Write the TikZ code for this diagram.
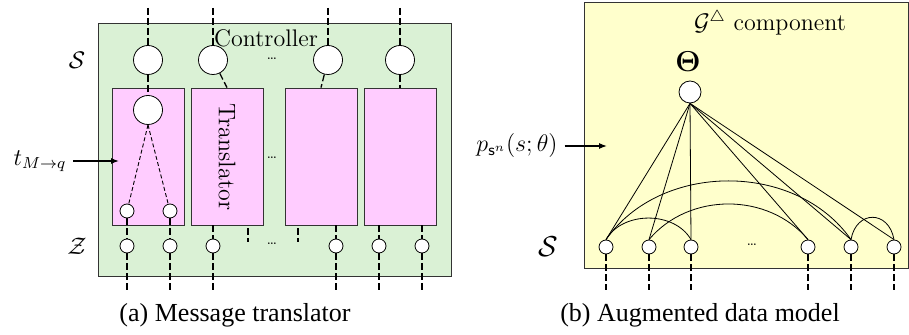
\documentclass[tikz,border=0pt]{standalone}
\usepackage{amsmath}
\usepackage{amssymb}
\usepackage{fontspec}
\newfontfamily\capfont{Liberation Serif}
\usepackage{tikz}
\usetikzlibrary{arrows.meta, positioning}
\usepackage{xcolor}
\definecolor{ctrlgreen}{RGB}{218,241,213}
\definecolor{transpink}{RGB}{255,204,255}
\definecolor{compyellow}{RGB}{255,255,204}

\tikzset{
    bigvar/.style={circle, draw=black, fill=white, minimum size=14.5pt, inner sep=0pt},
    midvar/.style={circle, draw=black, fill=white, minimum size=11pt, inner sep=0pt},
    smallvar/.style={circle, draw=black, fill=white, minimum size=7pt, inner sep=0pt},
    transbox/.style={rectangle, draw=black!80, fill=transpink, minimum width=36pt, minimum height=68.5pt, inner sep=0pt},
    wire/.style={dash pattern=on 3.5pt off 1.5pt, line width=0.65pt},
    thinwire/.style={dash pattern=on 2pt off 1.2pt, line width=0.45pt},
    edge/.style={line width=0.4pt},
    dotsty/.style={font=\scriptsize, inner sep=0pt},
    lbl/.style={font=\large},
    boxtext/.style={font=\fontsize{12}{14}\selectfont},
    captext/.style={font=\capfont\fontsize{13}{15}\selectfont}
}

\begin{document}
\begin{tikzpicture}[x=0.5pt, y=-0.5pt]

    \useasboundingbox (0,0) rectangle (909,335);
    \coordinate (topend) at (0,8);
    \coordinate (botend) at (0,290);

    % (a) Traductor de mensajes
    \node[rectangle, draw=black!80, fill=ctrlgreen, minimum width=176.5pt, minimum height=126.5pt] (ctrl) at (274.5,149.5) {};
    \node[transbox] (b1) at (148,156.5) {};
    \node[transbox] (b2) at (227,156.5) {};
    \node[transbox] (b3) at (321,156.5) {};
    \node[transbox] (b4) at (400,156.5) {};
    \node[boxtext, rotate=-90] (translabel) at (227,157) {Translator};

    \node[bigvar] (s1) at (148,60) {};
    \node[bigvar] (s2) at (213,60) {};
    \node[bigvar] (s3) at (328,60) {};
    \node[bigvar] (s4) at (400,60) {};
    \node[bigvar] (inner) at (148,110) {};
    \node[smallvar] (m1) at (127,211) {};
    \node[smallvar] (m2) at (170,211) {};

    \node[smallvar] (z1) at (127,246) {};
    \node[smallvar] (z2) at (170,246) {};
    \node[smallvar] (z3) at (213,246) {};
    \node[smallvar] (z4) at (336,246) {};
    \node[smallvar] (z5) at (379,246) {};
    \node[smallvar] (z6) at (422,246) {};

    \foreach \i in {1,...,4}
        \draw[wire] (s\i.north |- topend) -- (s\i.north);
    \draw[wire] (s1) -- (inner);
    \draw[wire] (s2) -- (b2.north);
    \draw[wire] (s3) -- (b3.north);
    \draw[wire] (s4) -- (b4.north);
    \draw[thinwire] (inner.south) -- (m1);
    \draw[thinwire] (inner.south) -- (m2);
    \draw[wire] (m1) -- (z1);
    \draw[wire] (m2) -- (z2);
    \draw[wire] (b2.south -| z3) -- (z3);
    \draw[wire] (b3.south -| z4) -- (z4);
    \draw[wire] (b4.south -| z5) -- (z5);
    \draw[wire] (b4.south -| z6) -- (z6);
    \coordinate (stuba) at (248,242);
    \coordinate (stubb) at (298,242);
    \draw[wire] ([yshift=-1.5pt]b2.south -| stuba) -- (stuba);
    \draw[wire] ([yshift=-1.5pt]b3.south -| stubb) -- (stubb);
    \foreach \i in {1,...,6}
        \draw[wire] (z\i.south) -- (z\i.south |- botend);

    \node[boxtext] (ctrllabel) at (266,38) {Controller};
    \node[dotsty] (dotsa) at (272,59) {\dots};
    \node[dotsty] (dotsb) at (272,158) {\dots};
    \node[dotsty] (dotsc) at (272,244) {\dots};
    \node[lbl] (slabel) at (77,60) {$\mathcal{S}$};
    \node[lbl] (zlabel) at (77,246) {$\mathcal{Z}$};
    \node[lbl] (tlabel) at (40,161) {$t_{M\rightarrow q}$};
    \coordinate (tarrow) at (119,161);
    \draw[-{Latex[length=4pt]}, line width=0.6pt] (tlabel) -- (tarrow);
    \node[captext] (capa) at (235,315) {(a) Message translator};

    % (b) Modelo de datos aumentado
    \node[rectangle, draw=black!80, fill=compyellow, minimum width=162pt, minimum height=133pt] (comp) at (746,135) {};
    \node[lbl] (complabel) at (770,23) {$\mathcal{G}^{\triangle}$ component};
    \node[font=\Large] (thetalabel) at (688,62) {$\boldsymbol{\Theta}$};
    \node[midvar] (theta) at (690,92) {};

    \node[smallvar] (n1) at (606,247) {};
    \node[smallvar] (n2) at (649,247) {};
    \node[smallvar] (n3) at (691,247) {};
    \node[smallvar] (n4) at (808,247) {};
    \node[smallvar] (n5) at (851,247) {};
    \node[smallvar] (n6) at (894,247) {};

    \foreach \i in {1,...,6}
        \draw[edge] (theta.south) -- (n\i.north);
    \draw[edge] (n1.north) to[out=60, in=120] (n3.north);
    \draw[edge] (n1.north) to[out=55, in=125] (n5.north);
    \draw[edge] (n2.north) to[out=50, in=130] (n4.north);
    \draw[edge] (n5.north) to[out=80, in=100, looseness=1.8] (n6.north);
    \foreach \i in {1,...,6}
        \draw[wire] (n\i.south) -- (n\i.south |- botend);

    \node[dotsty] (dotsd) at (752,245) {\dots};
    \node[font=\Large] (slabelb) at (548,247) {$\mathcal{S}$};
    \node[lbl] (plabel) at (517,146) {$p_{\mathsf{s}^n}(s;\theta)$};
    \coordinate (parrow) at (607,146);
    \draw[-{Latex[length=4pt]}, line width=0.6pt] (plabel) -- (parrow);
    \node[captext] (capb) at (700,315) {(b) Augmented data model};

\end{tikzpicture}
\end{document}
